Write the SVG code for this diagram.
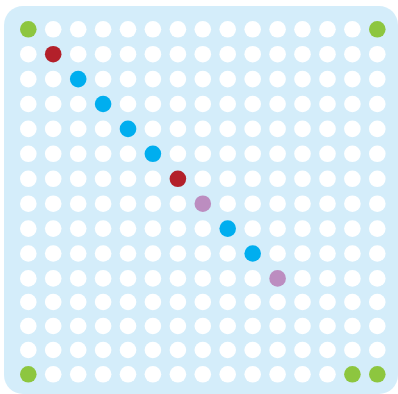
<svg xmlns="http://www.w3.org/2000/svg" width="398" height="394" viewBox="0 0 398 394">
<style>
.w{fill:#ffffff}.g{fill:#8dc63f}.r{fill:#b3202a}.b{fill:#00aeef}.p{fill:#bc8dc0}
</style>
<rect x="4" y="6" width="394" height="388" rx="19" fill="#d4edfa"/>
<g id="row0"><circle class="g" cx="28.3" cy="29.3" r="8.3"/><circle class="w" cx="53.2" cy="29.3" r="8.3"/><circle class="w" cx="78.2" cy="29.3" r="8.3"/><circle class="w" cx="103.1" cy="29.3" r="8.3"/><circle class="w" cx="128" cy="29.3" r="8.3"/><circle class="w" cx="152.9" cy="29.3" r="8.3"/><circle class="w" cx="177.9" cy="29.3" r="8.3"/><circle class="w" cx="202.8" cy="29.3" r="8.3"/><circle class="w" cx="227.7" cy="29.3" r="8.3"/><circle class="w" cx="252.7" cy="29.3" r="8.3"/><circle class="w" cx="277.6" cy="29.3" r="8.3"/><circle class="w" cx="302.5" cy="29.3" r="8.3"/><circle class="w" cx="327.5" cy="29.3" r="8.3"/><circle class="w" cx="352.4" cy="29.3" r="8.3"/><circle class="g" cx="377.3" cy="29.3" r="8.3"/></g>
<g id="row1"><circle class="w" cx="28.3" cy="54.2" r="8.3"/><circle class="r" cx="53.2" cy="54.2" r="8.3"/><circle class="w" cx="78.2" cy="54.2" r="8.3"/><circle class="w" cx="103.1" cy="54.2" r="8.3"/><circle class="w" cx="128" cy="54.2" r="8.3"/><circle class="w" cx="152.9" cy="54.2" r="8.3"/><circle class="w" cx="177.9" cy="54.2" r="8.3"/><circle class="w" cx="202.8" cy="54.2" r="8.3"/><circle class="w" cx="227.7" cy="54.2" r="8.3"/><circle class="w" cx="252.7" cy="54.2" r="8.3"/><circle class="w" cx="277.6" cy="54.2" r="8.3"/><circle class="w" cx="302.5" cy="54.2" r="8.3"/><circle class="w" cx="327.5" cy="54.2" r="8.3"/><circle class="w" cx="352.4" cy="54.2" r="8.3"/><circle class="w" cx="377.3" cy="54.2" r="8.3"/></g>
<g id="row2"><circle class="w" cx="28.3" cy="79.1" r="8.3"/><circle class="w" cx="53.2" cy="79.1" r="8.3"/><circle class="b" cx="78.2" cy="79.1" r="8.3"/><circle class="w" cx="103.1" cy="79.1" r="8.3"/><circle class="w" cx="128" cy="79.1" r="8.3"/><circle class="w" cx="152.9" cy="79.1" r="8.3"/><circle class="w" cx="177.9" cy="79.1" r="8.3"/><circle class="w" cx="202.8" cy="79.1" r="8.3"/><circle class="w" cx="227.7" cy="79.1" r="8.3"/><circle class="w" cx="252.7" cy="79.1" r="8.3"/><circle class="w" cx="277.6" cy="79.1" r="8.3"/><circle class="w" cx="302.5" cy="79.1" r="8.3"/><circle class="w" cx="327.5" cy="79.1" r="8.3"/><circle class="w" cx="352.4" cy="79.1" r="8.3"/><circle class="w" cx="377.3" cy="79.1" r="8.3"/></g>
<g id="row3"><circle class="w" cx="28.3" cy="104" r="8.3"/><circle class="w" cx="53.2" cy="104" r="8.3"/><circle class="w" cx="78.2" cy="104" r="8.3"/><circle class="b" cx="103.1" cy="104" r="8.3"/><circle class="w" cx="128" cy="104" r="8.3"/><circle class="w" cx="152.9" cy="104" r="8.3"/><circle class="w" cx="177.9" cy="104" r="8.3"/><circle class="w" cx="202.8" cy="104" r="8.3"/><circle class="w" cx="227.7" cy="104" r="8.3"/><circle class="w" cx="252.7" cy="104" r="8.3"/><circle class="w" cx="277.6" cy="104" r="8.3"/><circle class="w" cx="302.5" cy="104" r="8.3"/><circle class="w" cx="327.5" cy="104" r="8.3"/><circle class="w" cx="352.4" cy="104" r="8.3"/><circle class="w" cx="377.3" cy="104" r="8.3"/></g>
<g id="row4"><circle class="w" cx="28.3" cy="128.9" r="8.3"/><circle class="w" cx="53.2" cy="128.9" r="8.3"/><circle class="w" cx="78.2" cy="128.9" r="8.3"/><circle class="w" cx="103.1" cy="128.9" r="8.3"/><circle class="b" cx="128" cy="128.9" r="8.3"/><circle class="w" cx="152.9" cy="128.9" r="8.3"/><circle class="w" cx="177.9" cy="128.9" r="8.3"/><circle class="w" cx="202.8" cy="128.9" r="8.3"/><circle class="w" cx="227.7" cy="128.9" r="8.3"/><circle class="w" cx="252.7" cy="128.9" r="8.3"/><circle class="w" cx="277.6" cy="128.9" r="8.3"/><circle class="w" cx="302.5" cy="128.9" r="8.3"/><circle class="w" cx="327.5" cy="128.9" r="8.3"/><circle class="w" cx="352.4" cy="128.9" r="8.3"/><circle class="w" cx="377.3" cy="128.9" r="8.3"/></g>
<g id="row5"><circle class="w" cx="28.3" cy="153.8" r="8.3"/><circle class="w" cx="53.2" cy="153.8" r="8.3"/><circle class="w" cx="78.2" cy="153.8" r="8.3"/><circle class="w" cx="103.1" cy="153.8" r="8.3"/><circle class="w" cx="128" cy="153.8" r="8.3"/><circle class="b" cx="152.9" cy="153.8" r="8.3"/><circle class="w" cx="177.9" cy="153.8" r="8.3"/><circle class="w" cx="202.8" cy="153.8" r="8.3"/><circle class="w" cx="227.7" cy="153.8" r="8.3"/><circle class="w" cx="252.7" cy="153.8" r="8.3"/><circle class="w" cx="277.6" cy="153.8" r="8.3"/><circle class="w" cx="302.5" cy="153.8" r="8.3"/><circle class="w" cx="327.5" cy="153.8" r="8.3"/><circle class="w" cx="352.4" cy="153.8" r="8.3"/><circle class="w" cx="377.3" cy="153.8" r="8.3"/></g>
<g id="row6"><circle class="w" cx="28.3" cy="178.8" r="8.3"/><circle class="w" cx="53.2" cy="178.8" r="8.3"/><circle class="w" cx="78.2" cy="178.8" r="8.3"/><circle class="w" cx="103.1" cy="178.8" r="8.3"/><circle class="w" cx="128" cy="178.8" r="8.3"/><circle class="w" cx="152.9" cy="178.8" r="8.3"/><circle class="r" cx="177.9" cy="178.8" r="8.3"/><circle class="w" cx="202.8" cy="178.8" r="8.3"/><circle class="w" cx="227.7" cy="178.8" r="8.3"/><circle class="w" cx="252.7" cy="178.8" r="8.3"/><circle class="w" cx="277.6" cy="178.8" r="8.3"/><circle class="w" cx="302.5" cy="178.8" r="8.3"/><circle class="w" cx="327.5" cy="178.8" r="8.3"/><circle class="w" cx="352.4" cy="178.8" r="8.3"/><circle class="w" cx="377.3" cy="178.8" r="8.3"/></g>
<g id="row7"><circle class="w" cx="28.3" cy="203.7" r="8.3"/><circle class="w" cx="53.2" cy="203.7" r="8.3"/><circle class="w" cx="78.2" cy="203.7" r="8.3"/><circle class="w" cx="103.1" cy="203.7" r="8.3"/><circle class="w" cx="128" cy="203.7" r="8.3"/><circle class="w" cx="152.9" cy="203.7" r="8.3"/><circle class="w" cx="177.9" cy="203.7" r="8.3"/><circle class="p" cx="202.8" cy="203.7" r="8.3"/><circle class="w" cx="227.7" cy="203.7" r="8.3"/><circle class="w" cx="252.7" cy="203.7" r="8.3"/><circle class="w" cx="277.6" cy="203.7" r="8.3"/><circle class="w" cx="302.5" cy="203.7" r="8.3"/><circle class="w" cx="327.5" cy="203.7" r="8.3"/><circle class="w" cx="352.4" cy="203.7" r="8.3"/><circle class="w" cx="377.3" cy="203.7" r="8.3"/></g>
<g id="row8"><circle class="w" cx="28.3" cy="228.6" r="8.3"/><circle class="w" cx="53.2" cy="228.6" r="8.3"/><circle class="w" cx="78.2" cy="228.6" r="8.3"/><circle class="w" cx="103.1" cy="228.6" r="8.3"/><circle class="w" cx="128" cy="228.6" r="8.3"/><circle class="w" cx="152.9" cy="228.6" r="8.3"/><circle class="w" cx="177.9" cy="228.6" r="8.3"/><circle class="w" cx="202.8" cy="228.6" r="8.3"/><circle class="b" cx="227.7" cy="228.6" r="8.3"/><circle class="w" cx="252.7" cy="228.6" r="8.3"/><circle class="w" cx="277.6" cy="228.6" r="8.3"/><circle class="w" cx="302.5" cy="228.6" r="8.3"/><circle class="w" cx="327.5" cy="228.6" r="8.3"/><circle class="w" cx="352.4" cy="228.6" r="8.3"/><circle class="w" cx="377.3" cy="228.6" r="8.3"/></g>
<g id="row9"><circle class="w" cx="28.3" cy="253.5" r="8.3"/><circle class="w" cx="53.2" cy="253.5" r="8.3"/><circle class="w" cx="78.2" cy="253.5" r="8.3"/><circle class="w" cx="103.1" cy="253.5" r="8.3"/><circle class="w" cx="128" cy="253.5" r="8.3"/><circle class="w" cx="152.9" cy="253.5" r="8.3"/><circle class="w" cx="177.9" cy="253.5" r="8.3"/><circle class="w" cx="202.8" cy="253.5" r="8.3"/><circle class="w" cx="227.7" cy="253.5" r="8.3"/><circle class="b" cx="252.7" cy="253.5" r="8.3"/><circle class="w" cx="277.6" cy="253.5" r="8.3"/><circle class="w" cx="302.5" cy="253.5" r="8.3"/><circle class="w" cx="327.5" cy="253.5" r="8.3"/><circle class="w" cx="352.4" cy="253.5" r="8.3"/><circle class="w" cx="377.3" cy="253.5" r="8.3"/></g>
<g id="row10"><circle class="w" cx="28.3" cy="278.4" r="8.3"/><circle class="w" cx="53.2" cy="278.4" r="8.3"/><circle class="w" cx="78.2" cy="278.4" r="8.3"/><circle class="w" cx="103.1" cy="278.4" r="8.3"/><circle class="w" cx="128" cy="278.4" r="8.3"/><circle class="w" cx="152.9" cy="278.4" r="8.3"/><circle class="w" cx="177.9" cy="278.4" r="8.3"/><circle class="w" cx="202.8" cy="278.4" r="8.3"/><circle class="w" cx="227.7" cy="278.4" r="8.3"/><circle class="w" cx="252.7" cy="278.4" r="8.3"/><circle class="p" cx="277.6" cy="278.4" r="8.3"/><circle class="w" cx="302.5" cy="278.4" r="8.3"/><circle class="w" cx="327.5" cy="278.4" r="8.3"/><circle class="w" cx="352.4" cy="278.4" r="8.3"/><circle class="w" cx="377.3" cy="278.4" r="8.3"/></g>
<g id="row11"><circle class="w" cx="28.3" cy="302" r="8.3"/><circle class="w" cx="53.2" cy="302" r="8.3"/><circle class="w" cx="78.2" cy="302" r="8.3"/><circle class="w" cx="103.1" cy="302" r="8.3"/><circle class="w" cx="128" cy="302" r="8.3"/><circle class="w" cx="152.9" cy="302" r="8.3"/><circle class="w" cx="177.9" cy="302" r="8.3"/><circle class="w" cx="202.8" cy="302" r="8.3"/><circle class="w" cx="227.7" cy="302" r="8.3"/><circle class="w" cx="252.7" cy="302" r="8.3"/><circle class="w" cx="277.6" cy="302" r="8.3"/><circle class="w" cx="302.5" cy="302" r="8.3"/><circle class="w" cx="327.5" cy="302" r="8.3"/><circle class="w" cx="352.4" cy="302" r="8.3"/><circle class="w" cx="377.3" cy="302" r="8.3"/></g>
<g id="row12"><circle class="w" cx="28.3" cy="326" r="8.3"/><circle class="w" cx="53.2" cy="326" r="8.3"/><circle class="w" cx="78.2" cy="326" r="8.3"/><circle class="w" cx="103.1" cy="326" r="8.3"/><circle class="w" cx="128" cy="326" r="8.3"/><circle class="w" cx="152.9" cy="326" r="8.3"/><circle class="w" cx="177.9" cy="326" r="8.3"/><circle class="w" cx="202.8" cy="326" r="8.3"/><circle class="w" cx="227.7" cy="326" r="8.3"/><circle class="w" cx="252.7" cy="326" r="8.3"/><circle class="w" cx="277.6" cy="326" r="8.3"/><circle class="w" cx="302.5" cy="326" r="8.3"/><circle class="w" cx="327.5" cy="326" r="8.3"/><circle class="w" cx="352.4" cy="326" r="8.3"/><circle class="w" cx="377.3" cy="326" r="8.3"/></g>
<g id="row13"><circle class="w" cx="28.3" cy="350" r="8.3"/><circle class="w" cx="53.2" cy="350" r="8.3"/><circle class="w" cx="78.2" cy="350" r="8.3"/><circle class="w" cx="103.1" cy="350" r="8.3"/><circle class="w" cx="128" cy="350" r="8.3"/><circle class="w" cx="152.9" cy="350" r="8.3"/><circle class="w" cx="177.9" cy="350" r="8.3"/><circle class="w" cx="202.8" cy="350" r="8.3"/><circle class="w" cx="227.7" cy="350" r="8.3"/><circle class="w" cx="252.7" cy="350" r="8.3"/><circle class="w" cx="277.6" cy="350" r="8.3"/><circle class="w" cx="302.5" cy="350" r="8.3"/><circle class="w" cx="327.5" cy="350" r="8.3"/><circle class="w" cx="352.4" cy="350" r="8.3"/><circle class="w" cx="377.3" cy="350" r="8.3"/></g>
<g id="row14"><circle class="g" cx="28.3" cy="374.3" r="8.3"/><circle class="w" cx="53.2" cy="374.3" r="8.3"/><circle class="w" cx="78.2" cy="374.3" r="8.3"/><circle class="w" cx="103.1" cy="374.3" r="8.3"/><circle class="w" cx="128" cy="374.3" r="8.3"/><circle class="w" cx="152.9" cy="374.3" r="8.3"/><circle class="w" cx="177.9" cy="374.3" r="8.3"/><circle class="w" cx="202.8" cy="374.3" r="8.3"/><circle class="w" cx="227.7" cy="374.3" r="8.3"/><circle class="w" cx="252.7" cy="374.3" r="8.3"/><circle class="w" cx="277.6" cy="374.3" r="8.3"/><circle class="w" cx="302.5" cy="374.3" r="8.3"/><circle class="w" cx="327.5" cy="374.3" r="8.3"/><circle class="g" cx="352.4" cy="374.3" r="8.3"/><circle class="g" cx="377.3" cy="374.3" r="8.3"/></g>
</svg>
